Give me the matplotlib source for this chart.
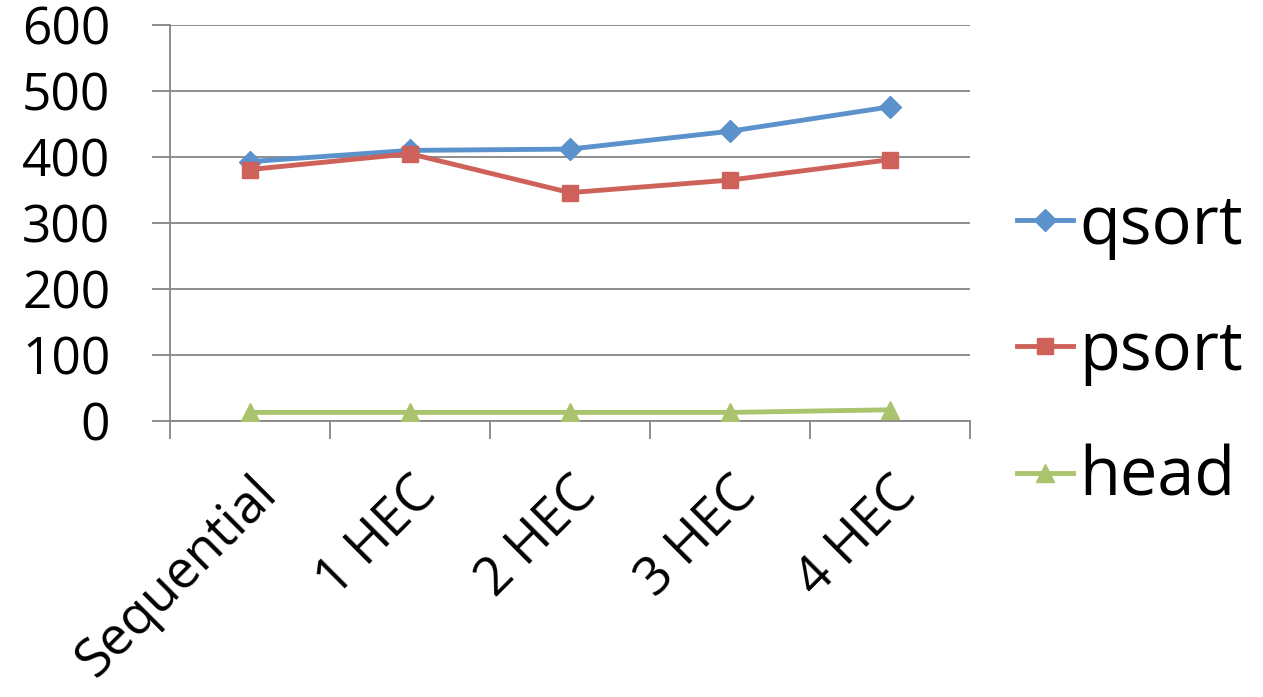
import matplotlib
matplotlib.use("Agg")
import matplotlib.pyplot as plt
import numpy as np

categories = ["Sequential", "1 HEC", "2 HEC", "3 HEC", "4 HEC"]
qsort = [393, 410, 412, 439, 476]
psort = [381, 405, 346, 365, 396]
head = [13, 13, 13, 13, 17]
yticks = [0, 100, 200, 300, 400, 500, 600]

plt.rcParams['font.family'] = ['Open Sans', 'DejaVu Sans']

fig = plt.figure(figsize=(12.63, 6.97), dpi=100)
ax = fig.add_axes([170/1263, 1-421/697, 800/1263, 396/697])

x = np.arange(len(categories))
gray = "#868686"
ax.plot(x, qsort, color="#5B92CB", lw=3.5, marker="D", ms=11, label="qsort", zorder=3)
ax.plot(x, psort, color="#CE625A", lw=3.5, marker="s", ms=12, label="psort", zorder=4)
ax.plot(x, head, color="#A9C46C", lw=3.5, marker="^", ms=13, label="head", zorder=3)

ax.set_xlim(-0.5, len(categories) - 0.5)
ax.set_ylim(0, 600)
ax.set_yticks(yticks)
ax.set_yticklabels([str(v) for v in yticks], fontsize=37)
ax.yaxis.grid(True, color=gray, lw=1.3)
ax.set_axisbelow(True)
for s in ["top", "right"]:
    ax.spines[s].set_visible(False)
ax.spines["left"].set_color(gray)
ax.spines["bottom"].set_color(gray)
ax.spines["left"].set_linewidth(1.3)
ax.spines["bottom"].set_linewidth(1.3)
ax.tick_params(axis="y", length=13, width=1.3, color=gray, pad=30)

ax.set_xticks(np.arange(-0.5, len(categories), 1.0))
ax.set_xticklabels([])
ax.tick_params(axis="x", which="major", length=13, width=1.3, color=gray)
ax.set_xticks(x, minor=True)
ax.set_xticklabels(categories, minor=True, fontsize=38, rotation=45,
                   ha="right", va="top", rotation_mode="anchor")
ax.tick_params(axis="x", which="minor", length=0, pad=33)
for lbl in ax.get_xticklabels(minor=True):
    lbl.set_x(lbl.get_position()[0])

fig.legend(loc="center left", bbox_to_anchor=(1017/1263, 1-352/697), frameon=False,
           fontsize=48, handlelength=0.84, labelspacing=0.88, handletextpad=0.1,
           borderpad=0, borderaxespad=0)

fig.savefig("out.png", dpi=100)
